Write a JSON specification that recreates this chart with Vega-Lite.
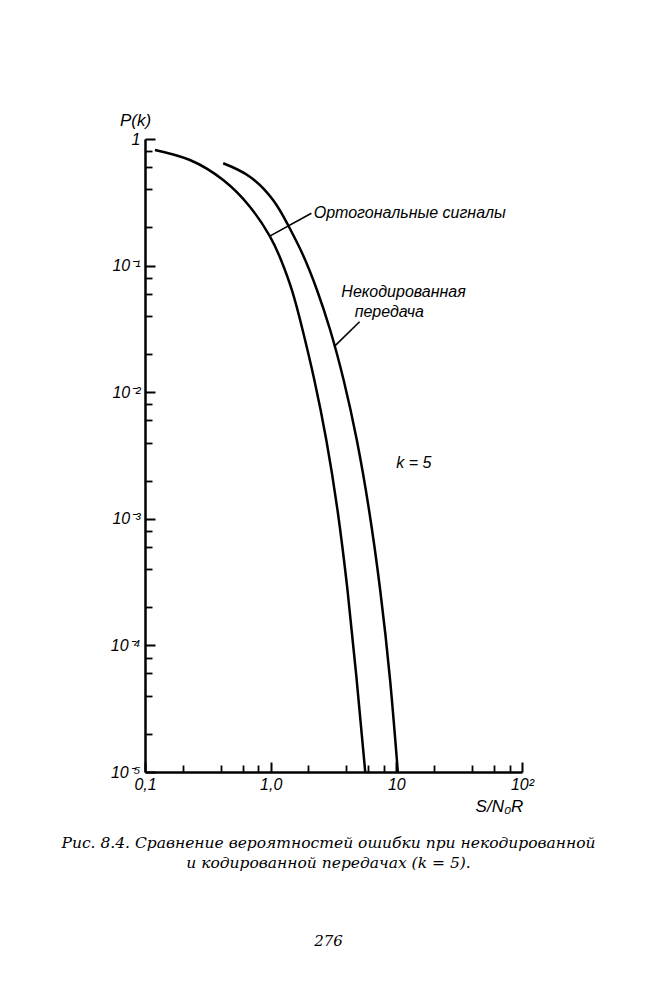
{
  "$schema": "https://vega.github.io/schema/vega-lite/v6.json",
  "width": 377,
  "height": 633,
  "autosize": "none",
  "padding": {"left": 145, "top": 139, "right": 132, "bottom": 228},
  "background": "white",
  "config": {
    "view": {"stroke": null},
    "axis": {"grid": false, "domainColor": "black", "tickColor": "black", "labelColor": "black", "titleColor": "black", "labelOverlap": false, "labelBound": false, "labelFlush": false}
  },
  "title": {
    "text": ["Рис.  8.4.  Сравнение  вероятностей  ошибки  при  некодированной", "и  кодированной  передачах  (k = 5)."],
    "subtitle": "276",
    "orient": "bottom",
    "anchor": "middle",
    "frame": "group",
    "dx": -5,
    "offset": 22,
    "font": "DejaVu Serif",
    "fontStyle": "italic",
    "fontWeight": "normal",
    "fontSize": 15.5,
    "lineHeight": 20,
    "color": "black",
    "subtitleFont": "DejaVu Serif",
    "subtitleFontStyle": "italic",
    "subtitleFontSize": 15,
    "subtitleColor": "black",
    "subtitlePadding": 62
  },
  "datasets": {
    "curves": [
      {"series": "ortho", "x": 0.12, "p": 0.819},
      {"series": "ortho", "x": 0.2276, "p": 0.6824},
      {"series": "ortho", "x": 0.419, "p": 0.474},
      {"series": "ortho", "x": 0.683, "p": 0.292},
      {"series": "ortho", "x": 0.984, "p": 0.171},
      {"series": "ortho", "x": 1.209, "p": 0.1107},
      {"series": "ortho", "x": 1.474, "p": 0.06418},
      {"series": "ortho", "x": 1.796, "p": 0.03099},
      {"series": "ortho", "x": 2.226, "p": 0.01249},
      {"series": "ortho", "x": 2.772, "p": 0.004192},
      {"series": "ortho", "x": 3.402, "p": 0.001174},
      {"series": "ortho", "x": 4.085, "p": 0.000274},
      {"series": "ortho", "x": 4.838, "p": 0.00005329},
      {"series": "ortho", "x": 5.657, "p": 0.00001},
      {"series": "uncoded", "x": 0.419, "p": 0.643},
      {"series": "uncoded", "x": 0.683, "p": 0.504},
      {"series": "uncoded", "x": 1.045, "p": 0.3298},
      {"series": "uncoded", "x": 1.374, "p": 0.2093},
      {"series": "uncoded", "x": 1.808, "p": 0.1213},
      {"series": "uncoded", "x": 2.336, "p": 0.06418},
      {"series": "uncoded", "x": 2.975, "p": 0.03099},
      {"series": "uncoded", "x": 3.807, "p": 0.01249},
      {"series": "uncoded", "x": 4.846, "p": 0.004192},
      {"series": "uncoded", "x": 6.064, "p": 0.001174},
      {"series": "uncoded", "x": 7.439, "p": 0.000274},
      {"series": "uncoded", "x": 8.92, "p": 0.00005329},
      {"series": "uncoded", "x": 10.28, "p": 0.00001}
    ],
    "pointers": [
      {"x": 0.984, "y": 0.171, "x2": 2.109, "y2": 0.259},
      {"x": 3.2, "y": 0.0229, "x2": 5.1, "y2": 0.036}
    ],
    "labels": [
      {"x": 2.2, "y": 0.26, "label": "Ортогональные сигналы"},
      {"x": 3.65, "y": 0.0622, "label": "Некодированная"},
      {"x": 4.66, "y": 0.0432, "label": "передача"},
      {"x": 10.0, "y": 0.00277, "label": "k = 5"}
    ]
  },
  "layer": [
    {
      "data": {"name": "curves"},
      "mark": {"type": "line", "color": "black", "strokeWidth": 2.5, "interpolate": "natural", "clip": true},
      "encoding": {
        "x": {
          "field": "x", "type": "quantitative",
          "scale": {"type": "log", "domain": [0.1, 100], "nice": false},
          "axis": {
            "orient": "bottom",
            "values": [0.1, 1, 10, 100],
            "labelExpr": "datum.value < 0.5 ? '0,1' : datum.value < 5 ? '1,0' : datum.value < 50 ? '10' : '10²'",
            "tickSize": -10, "tickWidth": 2, "domainWidth": 2.5,
            "labelPadding": 14,
            "labelFont": "Liberation Sans", "labelFontStyle": "italic", "labelFontSize": 16,
            "title": "S/N₀R", "titleX": 354, "titleY": 34,
            "titleFont": "Liberation Sans", "titleFontStyle": "italic", "titleFontWeight": "normal", "titleFontSize": 17,
            "titleBaseline": "middle", "titleAlign": "center"
          }
        },
        "y": {
          "field": "p", "type": "quantitative",
          "scale": {"type": "log", "domain": [0.00001, 1], "nice": false},
          "axis": {
            "orient": "left",
            "values": [1, 0.1, 0.01, 0.001, 0.0001, 0.00001],
            "labelExpr": "datum.value > 0.5 ? '1' : '10⁻' + ['','¹','²','³','⁴','⁵'][round(-log(datum.value)/LN10)]",
            "tickSize": -10, "tickWidth": 2, "domainWidth": 2.5,
            "labelPadding": 15,
            "labelFont": "Liberation Sans", "labelFontStyle": "italic", "labelFontSize": 16,
            "title": "P(k)", "titleAngle": 0, "titleX": -10, "titleY": -19,
            "titleFont": "Liberation Sans", "titleFontStyle": "italic", "titleFontWeight": "normal", "titleFontSize": 17,
            "titleBaseline": "middle", "titleAlign": "center"
          }
        },
        "detail": {"field": "series"}
      }
    },
    {
      "data": {"name": "pointers"},
      "mark": {"type": "rule", "color": "black", "strokeWidth": 1.6},
      "encoding": {
        "x": {
          "field": "x", "type": "quantitative",
          "axis": {"orient": "bottom", "values": [0.2, 0.4, 0.6, 0.8, 2, 4, 6, 8, 20, 40, 60, 80], "labels": false, "domain": false, "tickSize": -7, "tickWidth": 1.8, "title": null}
        },
        "x2": {"field": "x2"},
        "y": {
          "field": "y", "type": "quantitative",
          "axis": {"orient": "left", "values": [0.8, 0.6, 0.4, 0.2, 0.08, 0.06, 0.04, 0.02, 0.008, 0.006, 0.004, 0.002, 0.0008, 0.0006, 0.0004, 0.0002, 0.00008, 0.00006, 0.00004, 0.00002], "labels": false, "domain": false, "tickSize": -7, "tickWidth": 1.8, "title": null}
        },
        "y2": {"field": "y2"}
      }
    },
    {
      "data": {"name": "labels"},
      "mark": {"type": "text", "align": "left", "baseline": "middle", "font": "Liberation Sans", "fontStyle": "italic", "fontSize": 16, "color": "black"},
      "encoding": {
        "x": {"field": "x", "type": "quantitative", "axis": null},
        "y": {"field": "y", "type": "quantitative", "axis": null},
        "text": {"field": "label"}
      }
    }
  ],
  "resolve": {"axis": {"x": "independent", "y": "independent"}}
}
